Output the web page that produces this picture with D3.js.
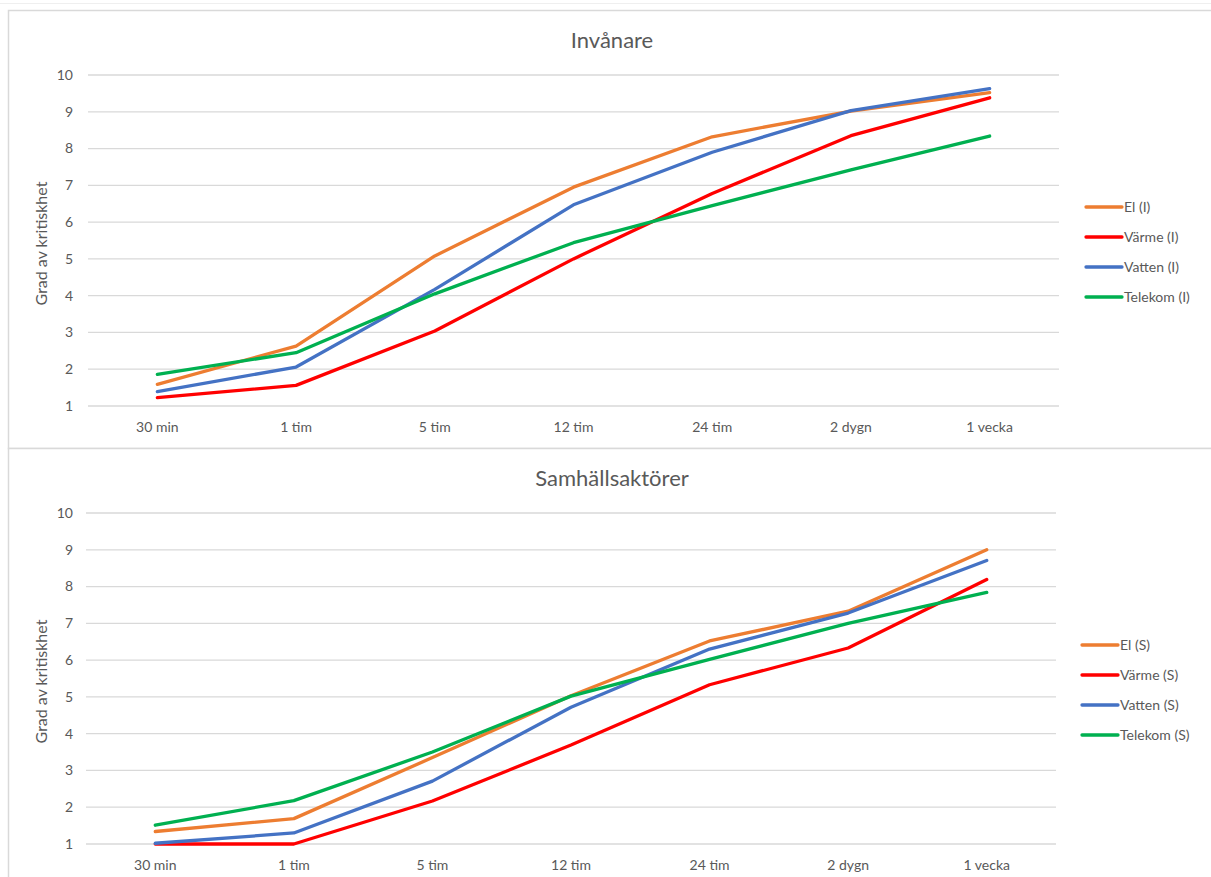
<!DOCTYPE html>
<html>
<head>
<meta charset="utf-8">
<script src="https://cdn.jsdelivr.net/npm/d3@7"></script>
<style>
  body { margin: 0; background: #fff; }
  text { font-family: Lato, "Open Sans", sans-serif; fill: #595959; }
</style>
</head>
<body>
<script>
// categories and series
var categories = ["30 min", "1 tim", "5 tim", "12 tim", "24 tim", "2 dygn", "1 vecka"];
var seriesNames = ["El", "Värme", "Vatten", "Telekom"];
var seriesColors = ["#ED7D31", "#FF0000", "#4472C4", "#00B050"];
var yTicks = [1, 2, 3, 4, 5, 6, 7, 8, 9, 10];

// Invånare
var elI      = [1.59, 2.63, 5.08, 6.95, 8.32, 9.02, 9.52];
var varmeI   = [1.23, 1.56, 3.04, 5.0, 6.78, 8.35, 9.38];
var vattenI  = [1.39, 2.06, 4.17, 6.47, 7.9, 9.03, 9.63];
var telekomI = [1.86, 2.45, 4.05, 5.44, 6.45, 7.42, 8.34];

// Samhällsaktörer
var elS      = [1.34, 1.69, 3.35, 5.03, 6.52, 7.33, 9.0];
var varmeS   = [1.0, 1.0, 2.17, 3.69, 5.33, 6.33, 8.19];
var vattenS  = [1.02, 1.3, 2.71, 4.72, 6.3, 7.28, 8.71];
var telekomS = [1.51, 2.18, 3.5, 5.02, 6.02, 7.0, 7.84];

var width = 1211, height = 877;
var svg = d3.select("body").append("svg")
    .attr("width", width)
    .attr("height", height);

// faint outer line at the very top
svg.append("line").attr("x1", 0).attr("x2", width).attr("y1", 3.5).attr("y2", 3.5)
    .attr("stroke", "#efefef");

function drawChart(opt) {
    var g = svg.append("g");

    // chart frame
    g.append("rect")
        .attr("x", 8.5).attr("y", opt.top + 0.5)
        .attr("width", 1215).attr("height", opt.frameH)
        .attr("fill", "white")
        .attr("stroke", "#d9d9d9").attr("stroke-width", 1.5);

    var x = d3.scalePoint().domain(categories).range([opt.left, opt.right]).padding(0.5);
    var y = d3.scaleLinear().domain([1, 10]).range([opt.y1, opt.y10]);

    // gridlines
    g.selectAll(".grid").data(yTicks).join("line")
        .attr("x1", opt.left).attr("x2", opt.right)
        .attr("y1", d => y(d)).attr("y2", d => y(d))
        .attr("stroke", "#d9d9d9").attr("stroke-width", 1.3);

    // y tick labels
    g.selectAll(".ytick").data(yTicks).join("text")
        .attr("x", 73).attr("y", d => y(d))
        .attr("dy", "0.35em")
        .attr("text-anchor", "end")
        .style("font-size", "14px")
        .text(d => d);

    // x tick labels
    g.selectAll(".xtick").data(categories).join("text")
        .attr("x", d => x(d)).attr("y", opt.y1 + 26)
        .attr("text-anchor", "middle")
        .style("font-size", "14px")
        .text(d => d);

    // title
    g.append("text")
        .attr("x", 612).attr("y", opt.top + 38)
        .attr("text-anchor", "middle")
        .style("font-size", "22px")
        .text(opt.title);

    // y axis label
    g.append("text")
        .attr("transform", "translate(47," + ((opt.y1 + opt.y10) / 2 + 3) + ") rotate(-90)")
        .attr("text-anchor", "middle")
        .style("font-size", "16px")
        .text("Grad av kritiskhet");

    var line = d3.line()
        .x((d, i) => x(categories[i]))
        .y(d => y(d));

    opt.series.forEach(function (vals, i) {
        g.append("path")
            .datum(vals)
            .attr("d", line)
            .attr("fill", "none")
            .attr("stroke", seriesColors[i])
            .attr("stroke-width", 3.3)
            .attr("stroke-linejoin", "round")
            .attr("stroke-linecap", "round");
    });

    // legend
    var leg = g.selectAll(".leg").data(seriesNames).join("g")
        .attr("transform", (d, i) => "translate(" + opt.legX + "," + (opt.legY + i * 30) + ")");
    leg.append("line")
        .attr("x1", 0).attr("x2", 36)
        .attr("stroke", (d, i) => seriesColors[i])
        .attr("stroke-width", 3.3)
        .attr("stroke-linecap", "round");
    leg.append("text")
        .attr("x", 38).attr("dy", "0.35em")
        .style("font-size", "14px")
        .text(d => d + " (" + opt.suffix + ")");
}

drawChart({
    title: "Invånare", suffix: "I", top: 10, frameH: 438,
    left: 88, right: 1059, y1: 406, y10: 75,
    legX: 1086, legY: 207,
    series: [elI, varmeI, vattenI, telekomI]
});

drawChart({
    title: "Samhällsaktörer", suffix: "S", top: 448, frameH: 440,
    left: 86, right: 1056, y1: 844, y10: 513,
    legX: 1082, legY: 645,
    series: [elS, varmeS, vattenS, telekomS]
});
</script>
</body>
</html>
